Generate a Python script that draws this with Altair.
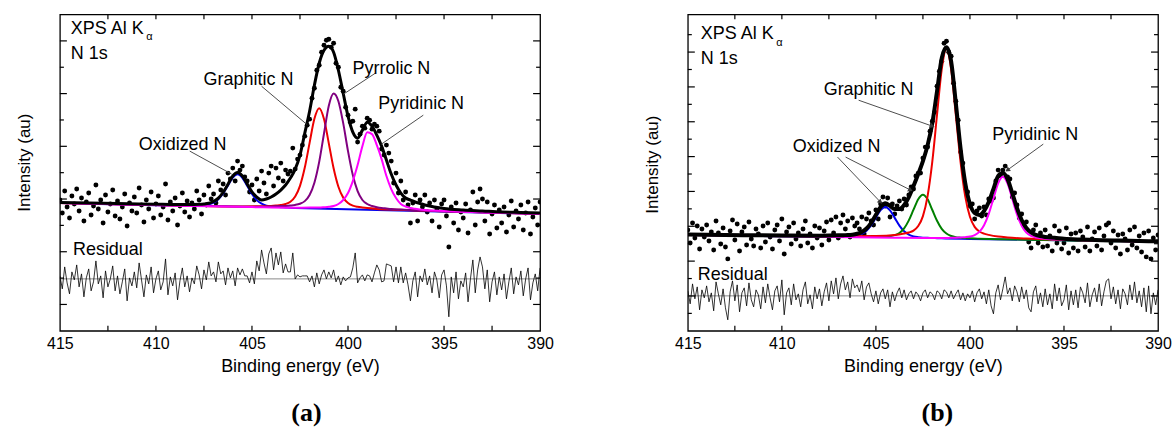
import altair as alt
import pandas as pd

# ---------------- shared axis data ----------------
E_STEP = 0.125
E_GRID = [round(415 - E_STEP * i, 3) for i in range(201)]   # measurement grid 415 -> 390 eV
X_LABELS = [415, 410, 405, 400, 395, 390]
X_TICKS = [412.5, 410, 407.5, 405, 402.5, 400, 397.5, 395, 392.5]


def g(start, stop, step=0.25):
    n = int(round((start - stop) / step)) + 1
    return [round(start - step * i, 3) for i in range(n)]


# ---------------- panel (a) ----------------
A_SCATTER = [
    131, 118, 140, 124, 113, 135, 127, 142,
    120, 133, 110, 129, 138, 116, 125, 146,
    122, 131, 108, 136, 119, 127, 141, 115,
    130, 112, 124, 137, 105, 128, 120, 134,
    118, 143, 126, 109, 131, 122, 139, 113,
    127, 135, 116, 124, 147, 111, 129, 120,
    133, 106, 125, 138, 119, 130, 114, 128,
    122, 140, 131, 117, 136, 126, 145, 132,
    137, 128, 150, 141, 147, 136, 158, 152,
    163, 150, 170, 161, 165, 154, 150, 139,
    146, 131, 152, 140, 160, 148, 137, 158,
    165, 145, 163, 153, 168, 150, 161, 157,
    160, 183, 162, 172, 176, 186, 195, 206,
    212, 233, 243, 261, 266, 279, 286, 291,
    292, 284, 288, 268, 264, 244, 240, 224,
    216, 209, 210, 222, 189, 197, 205, 203,
    213, 211, 202, 207, 205, 200, 182, 176,
    186, 178, 170, 148, 158, 138, 150, 131,
    139, 126, 108, 128, 136, 110, 131, 124,
    136, 119, 128, 110, 131, 122, 104, 127,
    131, 115, 84, 124, 108, 128, 101, 119,
    113, 127, 98, 121, 139, 106, 129, 142,
    132, 110, 129, 97, 117, 126, 103, 121,
    108, 124, 99, 116, 130, 104, 120, 112,
    126, 101, 118, 129, 97, 114, 123, 106,
    129,
]
A_RESID = [
    55, 42, 64, 48, 37, 59, 51, 66,
    44, 57, 34, 53, 62, 40, 49, 70,
    47, 55, 33, 60, 44, 52, 65, 40,
    55, 37, 49, 62, 30, 53, 45, 59,
    43, 68, 51, 34, 56, 47, 64, 38,
    52, 60, 41, 49, 72, 36, 54, 45,
    58, 31, 50, 63, 44, 55, 39, 53,
    47, 65, 56, 42, 61, 51, 69, 55,
    59, 49, 69, 57, 60, 46, 63, 53,
    60, 45, 63, 56, 62, 55, 55, 48,
    59, 47, 70, 60, 81, 68, 57, 77,
    83, 61, 78, 66, 79, 58, 67, 59,
    59, 78, 52, 56, 54, 55, 55, 55,
    49, 55, 44, 58, 47, 56, 61, 52,
    59, 53, 61, 49, 55, 46, 54, 50,
    53, 54, 63, 78, 48, 53, 56, 50,
    56, 55, 49, 58, 66, 61, 49, 50,
    67, 66, 65, 49, 64, 48, 64, 48,
    58, 46, 30, 50, 59, 34, 55, 49,
    62, 46, 55, 38, 59, 51, 33, 56,
    61, 45, 14, 54, 38, 59, 32, 50,
    44, 58, 29, 52, 71, 38, 61, 74,
    64, 42, 61, 29, 49, 59, 36, 54,
    41, 57, 32, 49, 63, 37, 54, 46,
    60, 35, 52, 63, 31, 48, 57, 40,
    63,
]
A_RESID_ZERO = 52

A_FIT_E = [415, 412, 410, 409] + g(408, 396) + [395.5, 395, 394, 393, 392, 391, 390]
A_FIT = [128.5, 127.4, 126.8, 126.5,
         126.6, 126.7, 127.0, 127.7, 129.5, 132.9, 138.8, 146.9, 155.0, 158.5,
         155.1, 147.2, 139.2, 134, 131, 132, 134, 137, 141, 146, 153, 162, 176,
         198, 220, 246, 268, 281, 285, 279, 261, 238, 215, 199, 193, 201, 209,
         205, 196, 185, 171, 157, 146, 138, 133, 131, 129, 127.5, 126,
         124, 122.5, 121, 120, 119, 118.5, 118]

A_OX_E = [415] + g(408.75, 402.75) + [390]
A_OX = [128.2, 125.6, 125.6, 125.6, 125.7, 125.8, 126.1, 126.7, 128.4, 131.8,
        137.6, 145.6, 153.5, 156.9, 153.3, 145.2, 137.0, 130.9, 127.3, 125.4,
        124.6, 124.1, 123.8, 123.5, 123.2, 123.1, 117.1]

A_GR_E = [415, 410, 408, 406.5, 405.5, 404.5] + g(404, 399) + [398.5, 397.5, 396.5, 395, 390]
A_GR = [128.1, 126.0, 125.2, 124.6, 124.6, 124.8,
        125.1, 125.5, 126.0, 127.0, 129.3, 134.5, 145.2, 163.5, 188.3, 212.4,
        223.0, 212.1, 187.8, 162.8, 144.3, 133.4, 128.0, 125.4, 124.2, 123.5, 122.9,
        122.1, 121.3, 120.6, 119.7, 117.3]

A_PY_E = [415, 410, 407, 405, 404] + g(403.5, 398) + [397.75, 397.25, 396.75, 395, 390]
A_PY = [128.1, 126.0, 124.9, 124.3, 124.6,
        124.9, 125.1, 125.5, 126.1, 127.3, 129.9, 136.0, 148.3, 169.2, 197.6, 225.4,
        237.7, 230, 208, 180, 156, 140, 131, 127, 125, 123.8, 123, 122.5,
        122.0, 121.4, 120.9, 119.7, 117.2]

A_PD_E = [415, 408, 405, 403, 402] + g(401.5, 396.5) + [396, 395, 393, 390]
A_PD = [128.1, 125.0, 123.9, 123.3, 123.4,
        123.5, 123.8, 124.2, 125.0, 127, 131, 138, 150, 166, 185, 199, 197, 186,
        172, 155, 142, 133, 127, 124.5, 123, 122.2,
        121, 120, 118.6, 117.2]

A_LINES = {"E1": [408.24, 404.50, 398.58, 396.08], "h1": [180, 245, 258, 216],
           "E2": [406.06, 402.16, 400.24, 398.26], "h2": [157, 207, 237, 187]}
A_LABELS_C = {"t": ["Oxidized N", "Graphitic N", "Pyrrolic N", "Pyridinic N"],
              "E": [408.61, 405.18, 397.74, 396.19], "h": [186, 251, 262, 227]}
A_LABELS_L = {"t": ["XPS Al K", "N 1s", "Residual"],
              "E": [414.43, 414.43, 414.32], "h": [302, 277, 81]}
A_ALPHA = {"t": ["α"], "E": [410.5], "h": [294]}
A_YT_LONG = [26.4, 79.2, 132.0, 184.8, 237.6, 290.4]
A_YT_SHORT = [52.8, 105.6, 158.4, 211.2, 264.0]

# ---------------- panel (b) ----------------
B_SCATTER = [
    101, 88, 108, 93, 105, 82, 102, 94,
    106, 90, 99, 81, 110, 98, 87, 103,
    84, 72, 100, 111, 91, 107, 80, 99,
    104, 86, 109, 92, 85, 102, 97, 83,
    105, 89, 108, 94, 82, 101, 106, 90,
    112, 77, 99, 104, 87, 108, 92, 98,
    85, 102, 110, 88, 97, 83, 105, 93,
    103, 86, 100, 109, 91, 111, 98, 114,
    93, 108, 116, 102, 110, 94, 113, 105,
    108, 102, 114, 97, 112, 118, 110, 106,
    121, 112, 127, 134, 125, 133, 114, 127,
    117, 125, 130, 122, 132, 126, 136, 144,
    142, 155, 158, 158, 173, 184, 184, 200,
    210, 219, 245, 260, 270, 288, 290, 279,
    275, 248, 230, 211, 179, 168, 143, 139,
    125, 127, 112, 120, 123, 115, 124, 116,
    132, 130, 133, 150, 161, 155, 161, 165,
    154, 152, 134, 138, 126, 113, 117, 105,
    109, 89, 83, 101, 106, 88, 98, 84,
    101, 85, 95, 80, 105, 88, 100, 82,
    88, 103, 78, 97, 83, 98, 80, 100,
    94, 84, 104, 80, 92, 99, 85, 103,
    81, 95, 106, 108, 88, 100, 83, 96,
    77, 97, 92, 81, 101, 86, 104, 83,
    95, 79, 98, 74, 100, 72, 93, 81,
    96,
]
B_RESID = [
    40, 27, 47, 32, 44, 21, 41, 33,
    45, 29, 38, 20, 49, 37, 26, 42,
    23, 11, 39, 50, 30, 46, 19, 38,
    43, 25, 48, 31, 24, 41, 36, 22,
    44, 28, 47, 33, 21, 40, 45, 29,
    51, 16, 38, 43, 26, 47, 31, 37,
    24, 41, 49, 27, 36, 22, 44, 32,
    42, 25, 39, 48, 30, 50, 37, 53,
    32, 47, 55, 41, 49, 33, 52, 43,
    46, 39, 50, 31, 44, 48, 37, 29,
    40, 27, 38, 42, 32, 41, 24, 39,
    30, 38, 43, 33, 41, 31, 37, 40,
    32, 39, 36, 30, 38, 41, 33, 39,
    37, 31, 40, 38, 32, 41, 39, 33,
    40, 32, 37, 41, 31, 38, 30, 37,
    33, 40, 29, 38, 42, 32, 39, 27,
    41, 25, 17, 38, 46, 31, 42, 54,
    37, 43, 30, 45, 39, 29, 44, 32,
    41, 23, 19, 39, 45, 27, 38, 24,
    42, 26, 37, 22, 47, 30, 43, 25,
    31, 46, 21, 40, 26, 41, 23, 44,
    38, 28, 48, 24, 36, 43, 29, 47,
    25, 39, 50, 52, 32, 44, 27, 41,
    22, 42, 37, 26, 46, 31, 49, 28,
    40, 24, 43, 19, 45, 17, 38, 26,
    41,
]
B_RESID_ZERO = 35

B_FIT_E = [415, 412, 410, 408] + g(407, 396) + [395.5, 395, 394, 393, 392, 391, 390]
B_FIT = [96.4, 95.8, 95.5, 95.3,
         95.6, 95.8, 95.9, 96.3, 97.2, 98.9, 102.5, 108.2, 116.2, 124.0, 127.8,
         125.2, 122, 122, 126, 134, 145, 157, 170, 186, 208, 240, 273, 284, 270,
         228, 183, 148, 127, 118, 116, 120, 129, 142, 155, 158, 152, 138, 123,
         111, 103, 98.5, 96, 95, 94,
         93.2, 92.2, 91.4, 90.8, 90.4, 90.0, 89.6]

B_BL_E = [415, 410, 408] + g(407.5, 401.5) + [400, 397, 390]
B_BL = [96.1, 94.8, 94.4,
        94.3, 94.3, 94.3, 94.4, 94.5, 94.8, 95.4, 97.0, 100.3, 105.8, 113.4,
        120.8, 124.0, 120.6, 113.1, 105.4, 99.7, 96.4, 94.6, 93.8, 93.3, 93.2,
        92.9, 92.8, 92.6,
        92.0, 91.2, 89.1]

B_GN_E = [415, 410, 407, 406] + g(405.5, 399.5) + [398.5, 397, 394, 390]
B_GN = [96.1, 94.7, 94.1, 93.9,
        93.9, 93.9, 94.0, 94.2, 94.3, 94.7, 95.8, 98.0, 102.6, 110.6, 121.3,
        131.8, 136.4, 131.7, 121.0, 110.2, 102.1, 97.4, 95.0, 93.8, 93.3, 93.0,
        92.6, 92.4, 92.3,
        91.8, 91.3, 90.3, 89.1]

B_RD_E = [415, 410, 407, 405, 404] + g(403.5, 399) + [398.5, 398, 397, 395, 393, 390]
B_RD = [96.2, 95.0, 94.6, 94.9, 95.9,
        97.4, 98.4, 100.4, 104.9, 114.9, 135.2, 169.7, 216.4, 261.9, 282.2,
        261.8, 216.1, 169.3, 134.7, 114.2, 104.1, 99.5, 97.3, 96.1,
        94.4, 93.5, 92.4, 91.2, 90.3, 89.3]

B_MG_E = [415, 408, 404, 402.5, 401.5] + g(401.25, 395.25) + [394, 392, 390]
B_MG = [96.05, 94.1, 93.2, 93.0, 93.0,
        93.05, 93.1, 93.2, 93.5, 93.8, 94.4, 95.8, 99.1, 105.8, 117.1, 132.5,
        147.7, 154.3, 147.5, 132.2, 116.7, 105.2, 98.4, 95.0, 93.4, 92.7, 92.2,
        91.8, 91.5, 91.35,
        90.6, 89.9, 89.2]

B_LINES = {"E1": [405.92, 407.04, 406.61, 396.10], "h1": [231, 174, 174, 187],
           "E2": [402.0, 404.76, 403.16, 398.01], "h2": [205, 129, 141, 161]}
B_ARROWS = {"E": [402.0, 404.76, 403.16, 398.01], "h": [205, 129, 141, 161],
            "ang": [109.4, 134.3, 116.2, 234.2]}
B_LABELS_C = {"t": ["Graphitic N", "Oxidized N", "Pyridinic N"],
              "E": [405.39, 407.09, 396.53], "h": [241, 184, 196]}
B_LABELS_L = {"t": ["XPS Al K", "N 1s", "Residual"],
              "E": [414.31, 414.31, 414.47], "h": [297, 272, 56]}
B_ALPHA = {"t": ["α"], "E": [410.3], "h": [288]}
B_YT_LONG = [34.9, 69.8, 104.7, 139.6, 174.5, 209.4, 244.3, 279.2]
B_YT_SHORT = [17.45, 52.35, 87.25, 122.15, 157.05, 191.95, 226.85, 261.75, 296.65]

# ---------------- layout / style ----------------
FONT = "Liberation Sans"
H = 317
W_A, W_B = 481, 471


def panel(W, scatter, resid, zero_h, fit_e, fit_y, fit_w, comps, ylong, yshort,
          lines, arrows, lab_c, lab_l, alpha, caption, cap_x, title_y):
    xs = alt.Scale(domain=[415, 390], nice=False, zero=False)
    ys = alt.Scale(domain=[0, H], nice=False, zero=False)
    xa = alt.Axis(values=X_LABELS, format="d", title="Binding energy (eV)", ticks=False,
                  domain=False, grid=False, labelFont=FONT, labelFontSize=16,
                  labelPadding=5, labelColor="black", labelFlush=False,
                  titleFont=FONT, titleFontSize=18, titleFontWeight="normal",
                  titlePadding=6, titleColor="black")
    ya = alt.Axis(labels=False, ticks=False, domain=False, grid=False,
                  title="Intensity (au)", titleFont=FONT, titleFontSize=17,
                  titleFontWeight="normal", titleColor="black", titleX=-26,
                  titleY=title_y, titleAngle=270, titleAlign="center",
                  titleBaseline="bottom")

    def X(f):
        return alt.X(f, scale=xs, axis=xa)

    def Y(f):
        return alt.Y(f, scale=ys, axis=ya)

    layers = []
    sc = pd.DataFrame({"E": E_GRID, "h": scatter})
    layers.append(alt.Chart(sc).mark_circle(size=24, color="black", opacity=1, clip=True)
                  .encode(x=X("E:Q"), y=Y("h:Q")))
    for ce, cy, col in comps:
        df = pd.DataFrame({"E": ce, "h": cy})
        layers.append(alt.Chart(df).mark_line(color=col, strokeWidth=2, interpolate="monotone", clip=True)
                      .encode(x=X("E:Q"), y=Y("h:Q")))
    fdf = pd.DataFrame({"E": fit_e, "h": fit_y})
    layers.append(alt.Chart(fdf).mark_line(color="black", strokeWidth=fit_w, interpolate="monotone", clip=True)
                  .encode(x=X("E:Q"), y=Y("h:Q")))
    # residual
    zdf = pd.DataFrame({"h": [zero_h]})
    layers.append(alt.Chart(zdf).mark_rule(color="#8a8a8a", strokeWidth=1)
                  .encode(y=Y("h:Q"), x=alt.value(0), x2=alt.value(W)))
    rdf = pd.DataFrame({"E": E_GRID, "h": resid})
    layers.append(alt.Chart(rdf).mark_line(color="black", strokeWidth=0.8, clip=True)
                  .encode(x=X("E:Q"), y=Y("h:Q")))
    # annotation lines
    ldf = pd.DataFrame(lines)
    layers.append(alt.Chart(ldf).mark_rule(color="#4d4d4d", strokeWidth=1)
                  .encode(x=X("E1:Q"), y=Y("h1:Q"), x2="E2:Q", y2="h2:Q"))
    if arrows is not None:
        adf = pd.DataFrame(arrows)
        layers.append(alt.Chart(adf).mark_point(shape="triangle-up", filled=True, size=30,
                                                color="#3a3a3a", opacity=1)
                      .encode(x=X("E:Q"), y=Y("h:Q"), angle=alt.Angle("ang:Q", scale=None)))
    # labels
    layers.append(alt.Chart(pd.DataFrame(lab_c)).mark_text(font=FONT, fontSize=18, align="center",
                                                          baseline="middle", color="black")
                  .encode(x=X("E:Q"), y=Y("h:Q"), text="t:N"))
    layers.append(alt.Chart(pd.DataFrame(lab_l)).mark_text(font=FONT, fontSize=18, align="left",
                                                          baseline="middle", color="black")
                  .encode(x=X("E:Q"), y=Y("h:Q"), text="t:N"))
    layers.append(alt.Chart(pd.DataFrame(alpha)).mark_text(font=FONT, fontSize=11, align="left",
                                                          baseline="middle", color="black")
                  .encode(x=X("E:Q"), y=Y("h:Q"), text="t:N"))
    # inward ticks
    for vals, ln in ((ylong, 7), (yshort, 4)):
        tdf = pd.DataFrame({"v": vals})
        layers.append(alt.Chart(tdf).mark_rule(color="black", strokeWidth=1.2)
                      .encode(y=Y("v:Q"), x=alt.value(0), x2=alt.value(ln)))
        layers.append(alt.Chart(tdf).mark_rule(color="black", strokeWidth=1.2)
                      .encode(y=Y("v:Q"), x=alt.value(W), x2=alt.value(W - ln)))
    xt = pd.DataFrame({"v": X_TICKS})
    layers.append(alt.Chart(xt).mark_rule(color="black", strokeWidth=1.2)
                  .encode(x=X("v:Q"), y=alt.value(H), y2=alt.value(H - 5)))
    layers.append(alt.Chart(xt).mark_rule(color="black", strokeWidth=1.2)
                  .encode(x=X("v:Q"), y=alt.value(0), y2=alt.value(5)))
    # caption
    layers.append(alt.Chart(pd.DataFrame({"t": [caption]}))
                  .mark_text(font="Liberation Serif", fontWeight="bold", fontSize=26,
                             align="center", baseline="middle", color="black")
                  .encode(x=alt.value(cap_x), y=alt.value(399), text="t:N"))
    return alt.layer(*layers).properties(width=W, height=H)


pa = panel(W_A, A_SCATTER, A_RESID, A_RESID_ZERO, A_FIT_E, A_FIT, 3,
           [(A_OX_E, A_OX, "#0000ee"), (A_GR_E, A_GR, "#ee0000"),
            (A_PY_E, A_PY, "#800080"), (A_PD_E, A_PD, "#ff00ff")],
           A_YT_LONG, A_YT_SHORT, A_LINES, None, A_LABELS_C, A_LABELS_L, A_ALPHA,
           "(a)", 247, 148)
pb = panel(W_B, B_SCATTER, B_RESID, B_RESID_ZERO, B_FIT_E, B_FIT, 4,
           [(B_BL_E, B_BL, "#0000ee"), (B_GN_E, B_GN, "#008000"),
            (B_RD_E, B_RD, "#ee0000"), (B_MG_E, B_MG, "#ff00ff")],
           B_YT_LONG, B_YT_SHORT, B_LINES, B_ARROWS, B_LABELS_C, B_LABELS_L, B_ALPHA,
           "(b)", 250, 150)

chart = (alt.hconcat(pa, pb, spacing=148, bounds="flush")
         .properties(padding={"left": 15, "top": 12, "right": 0, "bottom": 2})
         .configure_view(stroke="black", strokeWidth=1.3))

chart.save("out.html", embed_options={"renderer": "svg", "actions": False})
